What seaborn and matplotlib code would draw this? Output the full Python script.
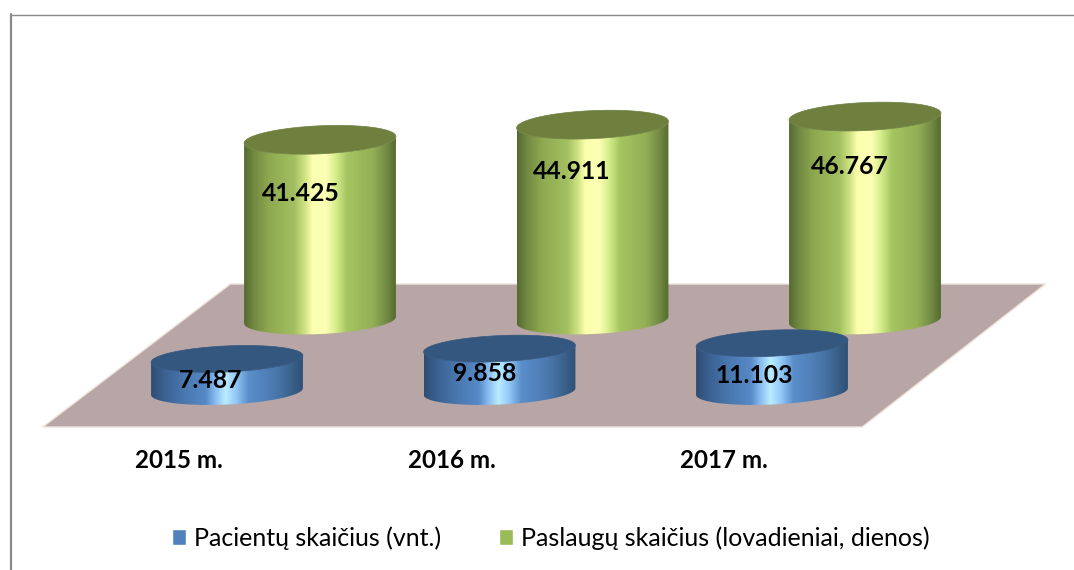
import numpy as np
import pandas as pd
import matplotlib
matplotlib.use("Agg")
import matplotlib.pyplot as plt
import seaborn as sns
from matplotlib.colors import LinearSegmentedColormap
from matplotlib.patches import Patch, Polygon
from matplotlib.path import Path
from matplotlib.lines import Line2D
from matplotlib.transforms import IdentityTransform

years = ["2015 m.", "2016 m.", "2017 m."]
pacientu = [7487, 9858, 11103]
paslaugu = [41425, 44911, 46767]
value_labels_front = ["7.487", "9.858", "11.103"]
value_labels_back = ["41.425", "44.911", "46.767"]
legend_labels = ["Pacientų skaičius (vnt.)", "Paslaugų skaičius (lovadieniai, dienos)"]

W, H = 1074, 570
sns.set_theme(style="white")
plt.rcParams["font.family"] = ["Lato", "DejaVu Sans"]
fig = plt.figure(figsize=(W / 100, H / 100), dpi=100, facecolor="white")

PX_PER_UNIT = 0.00435
YMIN, YMAX = -6000, 60000
STEP = 272.5
BAR_W = 152 / STEP
TILT = np.deg2rad(2.6)


def place(center_px, baseline_px):
    h = (YMAX - YMIN) * PX_PER_UNIT
    bottom_px = baseline_px - YMIN * PX_PER_UNIT
    ax = fig.add_axes([(center_px - STEP / 2) / W, (H - bottom_px) / H, 3 * STEP / W, h / H])
    ax.patch.set_alpha(0)
    return ax


def ellipse(cx, cy, a, b, ts):
    x = cx + a * np.cos(ts) * np.cos(TILT) - b * np.sin(ts) * np.sin(TILT)
    y = cy + a * np.cos(ts) * np.sin(TILT) + b * np.sin(ts) * np.cos(TILT)
    return np.column_stack([x, y])


def cylinders(ax, values, cmap, top_color, names, offsets, b):
    sns.barplot(x=years, y=values, width=BAR_W, ax=ax, color=top_color, saturation=1)
    ax.set_xlim(-0.5, 2.5)
    ax.set_ylim(YMIN, YMAX)
    ax.axis("off")
    grad = np.linspace(0, 1, 256).reshape(1, -1)
    for bar, val, name, (dx, dy) in zip(ax.patches, values, names, offsets):
        bar.set_facecolor("none")
        bar.set_linewidth(0)
        x0, x1 = bar.get_x(), bar.get_x() + bar.get_width()
        xc = (x0 + x1) / 2
        (px0, py0) = ax.transData.transform((xc, 0))
        (px1, py1) = ax.transData.transform((xc, val))
        a = (ax.transData.transform((x1, 0))[0] - ax.transData.transform((x0, 0))[0]) / 2
        lower = ellipse(px0, py0, a, b, np.linspace(np.pi, 2 * np.pi, 80))
        upper = ellipse(px1, py1, a, b, np.linspace(2 * np.pi, np.pi, 80))
        verts = np.vstack([lower, upper, lower[:1]])
        clip = Path(verts, closed=True)
        im = ax.imshow(grad, cmap=cmap, aspect="auto", extent=(x0, x1, YMIN, val + 5000),
                       interpolation="bilinear", zorder=2)
        im.set_clip_path(clip, IdentityTransform())
        ax.add_patch(Polygon(ellipse(px1, py1, a, b, np.linspace(0, 2 * np.pi, 160)), closed=True,
                             transform=IdentityTransform(), facecolor=top_color,
                             edgecolor=top_color, linewidth=0.5, zorder=3, clip_on=False))
        ax.annotate(name, xy=(xc, val), xytext=(dx, dy), textcoords="offset pixels",
                    ha="center", va="center", fontsize=17.8, fontweight="bold",
                    color="black", zorder=5)
    ax.set_xlim(-0.5, 2.5)
    ax.set_ylim(YMIN, YMAX)


green_cmap = LinearSegmentedColormap.from_list("g", [
    (0, "#566a30"), (0.06, "#6f8740"), (0.16, "#8ea850"), (0.33, "#a2c060"), (0.40, "#cfe283"),
    (0.45, "#fbffae"), (0.54, "#fdffb4"), (0.60, "#d9ef8e"), (0.68, "#a5c562"),
    (0.85, "#92af56"), (0.94, "#728a43"), (1, "#566a30")])
blue_cmap = LinearSegmentedColormap.from_list("b", [
    (0, "#2e4d74"), (0.08, "#3a6090"), (0.22, "#4a78b0"), (0.36, "#5689c6"), (0.42, "#86b9ee"),
    (0.49, "#b9edff"), (0.56, "#93c8f8"), (0.64, "#5a8fcb"), (0.82, "#4a78ae"),
    (0.93, "#3a6189"), (1, "#2f4f76")])

# floor axes: categorical ticks sit under the front edge of the floor
floor = fig.add_axes([(179 - STEP / 2) / W, (H - 427) / H, 3 * STEP / W, 143 / H])
floor.patch.set_alpha(0)
floor.set_xlim(-0.5, 2.5)
floor.set_ylim(0, 1)
floor.set_xticks(range(len(years)), labels=years, fontsize=17.4, fontweight="bold", color="black")
floor.set_yticks([])
floor.tick_params(axis="x", length=0, pad=16)
for s in floor.spines.values():
    s.set_visible(False)
floor.add_patch(Polygon([(0, 0), (1.0024, 0), (1.2265, 1), (0.2296, 1)], closed=True,
                        transform=floor.transAxes, facecolor="#b7a6a5",
                        edgecolor="#efe3da", linewidth=1.0, clip_on=False))

back = place(320, 320)
cylinders(back, paslaugu, green_cmap, "#6e7f3e", value_labels_back, [(-19, -54), (-21, -47), (-15, -50)], 14.0)
front = place(227, 391.5)
cylinders(front, pacientu, blue_cmap, "#34577f", value_labels_front, [(-16, -22), (-15, -25), (-18, -32)], 13.0)

# chart frame
fig.add_artist(Line2D([10.5 / W, 10.5 / W], [0, (H - 14) / H], color="#8a8a8a", linewidth=1.6))
fig.add_artist(Line2D([10 / W, 1], [(H - 14.5) / H] * 2, color="#8a8a8a", linewidth=1.0))

handles = [Patch(facecolor="#4f81bd"), Patch(facecolor="#9bbb59")]
fig.legend(handles, legend_labels, loc="center", bbox_to_anchor=(551 / W, 1 - 538 / H), ncol=2,
           frameon=False, fontsize=18, labelcolor="black", handlelength=0.56, handleheight=0.56,
           handletextpad=0.32, columnspacing=2.3)

fig.savefig("out.png", dpi=100, facecolor="white")
